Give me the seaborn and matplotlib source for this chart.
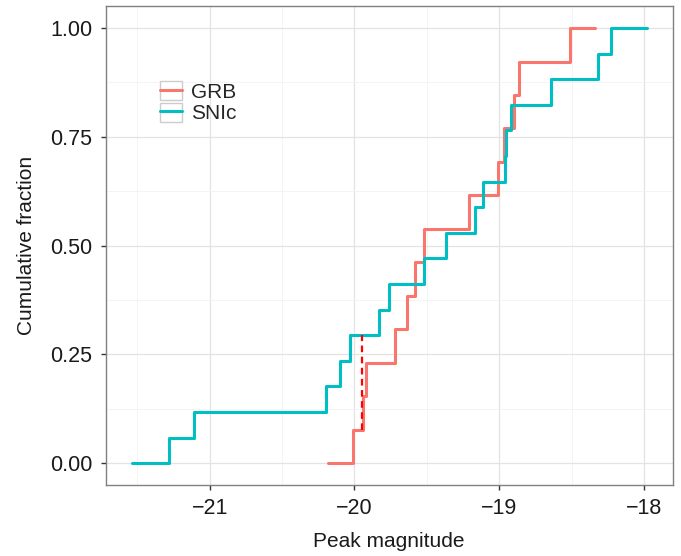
import numpy as np
import pandas as pd
import seaborn as sns
import matplotlib.pyplot as plt
from matplotlib.ticker import MultipleLocator
from matplotlib.patches import Rectangle
from matplotlib.lines import Line2D
from matplotlib.legend_handler import HandlerTuple

# peak magnitudes (sorted)
grb = [-20.01, -19.94, -19.92, -19.72, -19.64, -19.58, -19.52, -19.21,
       -19.01, -18.97, -18.90, -18.86, -18.51]
snic = [-21.28, -21.11, -20.20, -20.10, -20.03, -19.83, -19.76, -19.52,
        -19.37, -19.17, -19.11, -18.96, -18.95, -18.92, -18.64, -18.32, -18.23]
# where each drawn curve starts / ends
grb_range = [-20.18, -18.34]
snic_range = [-21.54, -17.98]
ks_x = -19.95

colors = {'GRB': '#F8766D', 'SNIc': '#00BFC4'}

def ecdf_frame(vals, rng, name):
    n = len(vals)
    x = [rng[0]] + list(vals) + [rng[1]]
    y = [0.0] + [(i + 1) / n for i in range(n)] + [1.0]
    return pd.DataFrame({'mag': x, 'frac': y, 'type': name})

df = pd.concat([ecdf_frame(grb, grb_range, 'GRB'),
                ecdf_frame(snic, snic_range, 'SNIc')], ignore_index=True)

sns.set_style('white')
plt.rcParams['font.family'] = ['Liberation Sans', 'DejaVu Sans']

fig = plt.figure(figsize=(6.81, 5.56), dpi=100)
ax = fig.add_axes([0.155, 0.1277, 0.833, 0.861])

ax.xaxis.set_major_locator(MultipleLocator(1))
ax.xaxis.set_minor_locator(MultipleLocator(0.5))
ax.yaxis.set_major_locator(MultipleLocator(0.25))
ax.yaxis.set_minor_locator(MultipleLocator(0.125))
ax.grid(which='major', color='#e3e3e3', lw=0.9)
ax.grid(which='minor', color='#f2f2f2', lw=0.6)
ax.set_axisbelow(True)

sns.lineplot(data=df, x='mag', y='frac', hue='type', estimator=None,
             drawstyle='steps-post', palette=colors,
             lw=2.2, ax=ax, sort=True, legend=False)

# KS distance marker
g_at = np.searchsorted(grb, ks_x) / len(grb)
s_at = np.searchsorted(snic, ks_x) / len(snic)
ax.plot([ks_x, ks_x], [g_at, s_at], color='#FF0000', ls=(0, (3, 2)), lw=1.6)

ax.set_xlim(-21.72, -17.80)
ax.set_ylim(-0.05, 1.05)
ax.set_yticklabels([f'{v:.2f}' for v in ax.get_yticks()])
ax.set_xticklabels([f'\u2212{abs(int(v))}' for v in ax.get_xticks()])

for s in ax.spines.values():
    s.set_color('#808080')
    s.set_linewidth(1.0)
ax.tick_params(which='major', bottom=True, left=True, length=3.5, width=1,
               color='#333333', labelsize=15.5, labelcolor='#1a1a1a', pad=6)
ax.tick_params(which='minor', length=0)

ax.set_xlabel('Peak magnitude', fontsize=15, color='#1a1a1a', labelpad=9)
ax.set_ylabel('Cumulative fraction', fontsize=15, color='#1a1a1a', labelpad=10)

handles = [(Rectangle((0, 0), 1, 1, facecolor='white', edgecolor='#cccccc', lw=1),
            Line2D([], [], color=colors[k], lw=2.2)) for k in colors]
ax.legend(handles, list(colors), handler_map={tuple: HandlerTuple(ndivide=1, pad=0)},
          loc='upper left', bbox_to_anchor=(0.096, 0.843), frameon=False,
          fontsize=15, handlelength=1.05, handleheight=1.0, handletextpad=0.45,
          borderpad=0, borderaxespad=0, labelspacing=0.05)

fig.savefig('out.png', dpi=100)
